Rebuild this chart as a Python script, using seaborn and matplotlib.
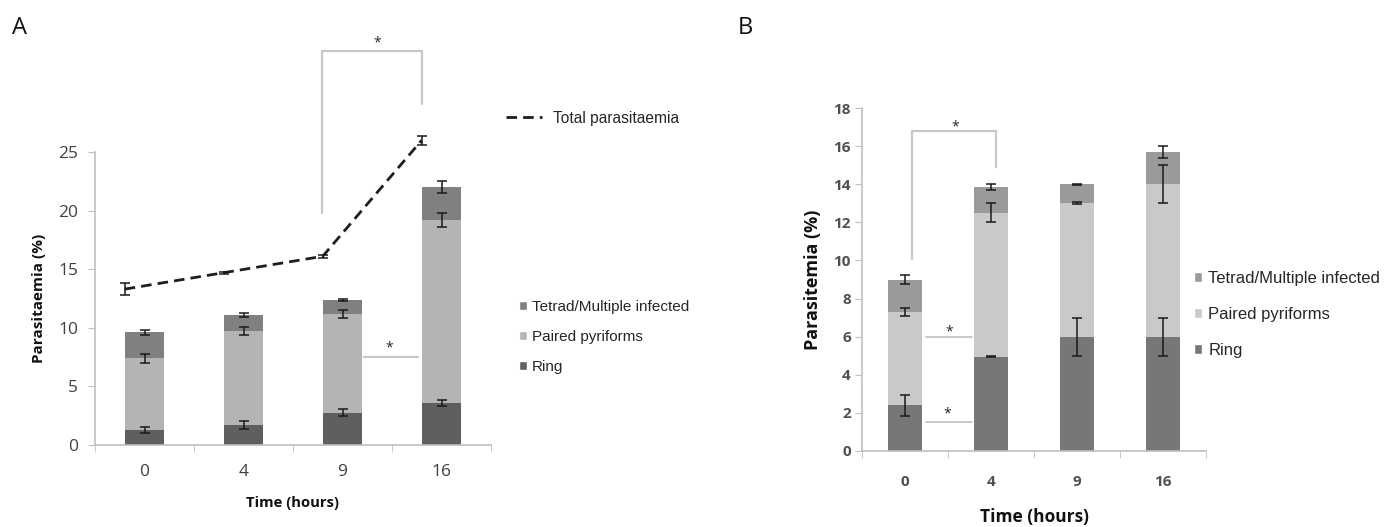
import numpy as np
import pandas as pd
import matplotlib
matplotlib.use("Agg")
import matplotlib.pyplot as plt
import seaborn as sns
from matplotlib.patches import Patch
from matplotlib.lines import Line2D

# ---------------- data ----------------
times = ["0", "4", "9", "16"]
series_names = ["Ring", "Paired pyriforms", "Tetrad/Multiple infected"]

# Panel A (segment heights, %)
a_ring = [1.3, 1.7, 2.75, 3.6]
a_paired = [6.1, 8.0, 8.45, 15.6]
a_tetrad = [2.2, 1.4, 1.2, 2.8]
a_ring_err = [0.25, 0.35, 0.3, 0.25]
a_paired_err = [0.4, 0.35, 0.35, 0.6]
a_tetrad_err = [0.2, 0.15, 0.1, 0.5]
a_total = [13.3, 14.7, 16.1, 26.0]
a_total_err = [0.5, 0.1, 0.15, 0.4]
a_yticks = [0, 5, 10, 15, 20, 25]

# Panel B (segment heights, %)
b_ring = [2.4, 4.95, 6.0, 6.0]
b_paired = [4.9, 7.55, 7.0, 8.0]
b_tetrad = [1.7, 1.35, 1.0, 1.7]
b_ring_err = [0.55, 0.03, 1.0, 1.0]
b_paired_err = [0.2, 0.5, 0.05, 1.0]
b_tetrad_err = [0.25, 0.15, 0.03, 0.3]
b_yticks = [0, 2, 4, 6, 8, 10, 12, 14, 16, 18]

# ---------------- style ----------------
sns.set_style("white")
plt.rcParams["font.family"] = ["Open Sans", "DejaVu Sans"]

W, H = 1393, 527
fig = plt.figure(figsize=(W / 100, H / 100), dpi=100)

spine_col = "#bfbfbf"
tick_col = "#404040"


def stacked(ax, ring, paired, tetrad, errs, colors):
    ring = np.array(ring)
    c_paired = ring + np.array(paired)
    c_tetrad = c_paired + np.array(tetrad)
    df = pd.DataFrame({"time": times, "ring": ring, "paired": c_paired, "tetrad": c_tetrad})
    for col, c in zip(["tetrad", "paired", "ring"], [colors[2], colors[1], colors[0]]):
        sns.barplot(data=df, x="time", y=col, order=times, color=c, width=0.4,
                    saturation=1, ax=ax, linewidth=0, zorder=2)
    pos = np.arange(len(times))
    for tops, e in zip([ring, c_paired, c_tetrad], errs):
        ax.errorbar(pos, tops, yerr=e, fmt="none", ecolor="#1a1a1a", elinewidth=1.1,
                    capsize=3.5, capthick=1.1, zorder=4)


def style_axes(ax, ymax, yticks, tick_fs, tick_w, tick_c, ypad, xpad):
    ax.set_xlim(-0.5, len(times) - 0.5)
    ax.set_ylim(0, ymax)
    ax.set_yticks(yticks)
    for s in ["top", "right"]:
        ax.spines[s].set_visible(False)
    for s in ["left", "bottom"]:
        ax.spines[s].set_color(spine_col)
        ax.spines[s].set_linewidth(1.2)
    ax.spines["left"].set_bounds(0, ymax)
    ax.tick_params(axis="y", left=True, length=5, color=spine_col, labelsize=tick_fs,
                   labelcolor=tick_c, pad=ypad)
    ax.tick_params(axis="x", bottom=False, labelsize=tick_fs, labelcolor=tick_c, pad=xpad)
    for lab in ax.get_xticklabels() + ax.get_yticklabels():
        lab.set_fontweight(tick_w)
    ax.set_xticks(np.arange(-0.5, len(times), 1.0), minor=True)
    ax.tick_params(axis="x", which="minor", bottom=True, length=5, color=spine_col)
    ax.set_ylabel("")
    ax.set_xlabel("")


# ---------------- Panel A ----------------
axA = fig.add_axes([95 / W, 1 - 445 / H, 396 / W, 293 / H])
colsA = ["#5f5f5f", "#b4b4b4", "#808080"]
stacked(axA, a_ring, a_paired, a_tetrad, [a_ring_err, a_paired_err, a_tetrad_err], colsA)
style_axes(axA, 25, a_yticks, 12.5, "normal", tick_col, 7, 10)

line_x = np.arange(len(times)) - 0.2
sns.lineplot(x=line_x, y=a_total, ax=axA, color="#1e1e1e", linewidth=2,
             linestyle=(0, (3.8, 2.2)), zorder=5, clip_on=False)
axA.errorbar(line_x, a_total, yerr=a_total_err, fmt="none", ecolor="#1a1a1a",
             elinewidth=1.1, capsize=3.5, capthick=1.1, zorder=5, clip_on=False)

br = "#c8c8c8"
axA.plot([1.79, 1.79, 2.8, 2.8], [19.8, 33.6, 33.6, 29.1], color=br, lw=1.6, clip_on=False)
axA.text(2.35, 34.0, "*", ha="center", va="baseline", fontsize=10, color="#222", clip_on=False)
axA.plot([2.22, 2.76], [7.5, 7.5], color=br, lw=1.6)
axA.text(2.47, 8.0, "*", ha="center", va="baseline", fontsize=10, color="#222")

axA.set_ylabel("Parasitaemia (%)", fontsize=11, fontweight="bold", color="#111", labelpad=9)
axA.set_xlabel("Time (hours)", fontsize=10.7, fontweight="bold", color="#111", labelpad=12)

legA1 = axA.legend(handles=[Line2D([], [], color="#1e1e1e", lw=2, linestyle=(0, (3.8, 2.2)))],
                   labels=["Total parasitaemia"], loc="center left",
                   bbox_to_anchor=(506 / W, 1 - 118 / H), bbox_transform=fig.transFigure,
                   frameon=False, handlelength=2.3, borderpad=0, borderaxespad=0,
                   handletextpad=0.7, prop={"family": "Liberation Sans", "size": 11.2})
axA.add_artist(legA1)
handlesA = [Patch(facecolor=colsA[2]), Patch(facecolor=colsA[1]), Patch(facecolor=colsA[0])]
axA.legend(handles=handlesA, labels=series_names[::-1], loc="upper left",
           bbox_to_anchor=(519 / W, 1 - 300 / H), bbox_transform=fig.transFigure,
           frameon=False, handlelength=0.5, handleheight=0.5, borderpad=0, borderaxespad=0,
           handletextpad=0.35, labelspacing=1.05, prop={"family": "Liberation Sans", "size": 11})

fig.text(12 / W, 1 - 28 / H, "A", fontsize=17, va="center", ha="left", color="#111")

# ---------------- Panel B ----------------
axB = fig.add_axes([862 / W, 1 - 450.7 / H, 344 / W, 342.4 / H])
colsB = ["#777777", "#c9c9c9", "#9a9a9a"]
stacked(axB, b_ring, b_paired, b_tetrad, [b_ring_err, b_paired_err, b_tetrad_err], colsB)
style_axes(axB, 18, b_yticks, 11, "bold", "#505050", 3, 14)

axB.plot([0.08, 0.08, 1.06, 1.06], [10.1, 16.8, 16.8, 14.9], color=br, lw=1.6, clip_on=False)
axB.text(0.58, 16.86, "*", ha="center", va="baseline", fontsize=10, color="#222")
axB.plot([0.24, 0.78], [6.0, 6.0], color=br, lw=1.4)
axB.text(0.51, 6.05, "*", ha="center", va="baseline", fontsize=10, color="#222")
axB.plot([0.24, 0.78], [1.5, 1.5], color=br, lw=1.4)
axB.text(0.49, 1.72, "*", ha="center", va="baseline", fontsize=10, color="#222")

axB.set_ylabel("Parasitemia (%)", fontsize=13, fontweight="bold", color="#111", labelpad=8)
axB.set_xlabel("Time (hours)", fontsize=12.5, fontweight="bold", color="#111", labelpad=14)

handlesB = [Patch(facecolor=colsB[2]), Patch(facecolor=colsB[1]), Patch(facecolor=colsB[0])]
axB.legend(handles=handlesB, labels=series_names[::-1], loc="upper left",
           bbox_to_anchor=(1194 / W, 1 - 271 / H), bbox_transform=fig.transFigure,
           frameon=False, handlelength=0.5, handleheight=0.5, borderpad=0, borderaxespad=0,
           handletextpad=0.35, labelspacing=1.26, prop={"family": "Liberation Sans", "size": 12})

fig.text(738 / W, 1 - 28 / H, "B", fontsize=17, va="center", ha="left", color="#111")

fig.savefig("out.png", dpi=100)
